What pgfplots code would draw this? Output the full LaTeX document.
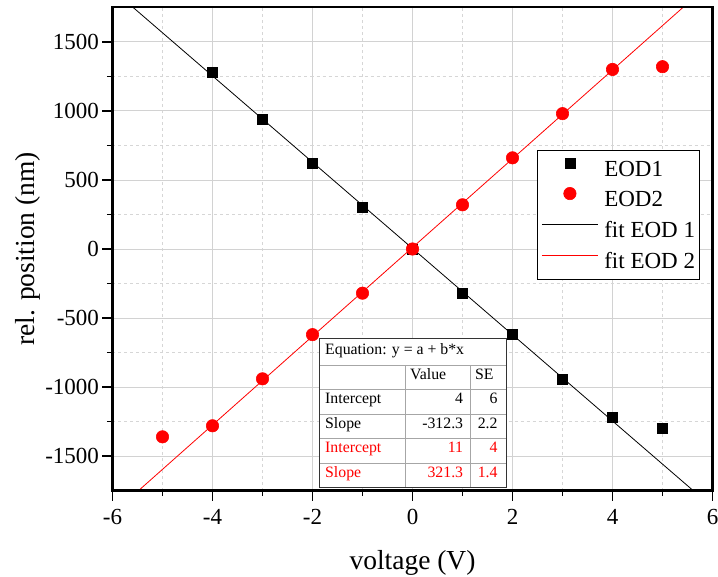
\documentclass[border=0pt]{standalone}
\usepackage{fontspec}
\setmainfont{Liberation Serif}
\usepackage{pgfplots}
\pgfplotsset{compat=1.18}
\definecolor{majgrid}{HTML}{D2D2D2}
\definecolor{mingrid}{HTML}{D6D6D6}
\definecolor{fitred}{HTML}{FF0000}
\pgfplotsset{
  marklegend/.style={legend image code/.code={\draw[mark repeat=2,mark phase=2,##1] plot coordinates {(0bp,6bp) (28bp,6bp) (56bp,6bp)};}},
  linelegend/.style={legend image code/.code={\draw[##1] (0bp,6bp) -- (56bp,6bp);}},
}
\begin{document}
\begin{tikzpicture}
\begin{axis}[
  at={(0,0)}, anchor=south west,
  scale only axis, width=600bp, height=483.4bp,
  xmin=-6, xmax=6, ymin=-1750, ymax=1750,
  xtick={-6,-4,...,6}, ytick={-1500,-1000,...,1500},
  minor xtick={-5,-3,...,5}, minor ytick={-1250,-750,...,1250},
  grid=both,
  major grid style={majgrid, line width=0.8bp},
  minor grid style={mingrid, dash pattern=on 3bp off 3bp, line width=0.8bp},
  axis line style={black, line width=2.2bp},
  tick style={black, line width=1.6bp},
  major tick length=10bp, minor tick length=5.5bp,
  tick align=outside, tick pos=left,
  ticklabel style={font=\fontsize{23bp}{27bp}\selectfont},
  xticklabel style={yshift=-5bp},
  /pgf/number format/assume math mode=true,
  /pgf/number format/1000 sep={},
  xlabel={voltage (V)}, ylabel={rel. position (nm)},
  label style={font=\fontsize{27.5bp}{33bp}\selectfont},
  xlabel style={at={(axis description cs:0.5,-0.162)}, anchor=base},
  ylabel style={at={(axis description cs:-0.1303,0.5)}, anchor=base},
  legend cell align=left,
  legend style={at={(rel axis cs:0.7075,0.7048)}, anchor=north west,
    draw=black, line width=1bp, fill=white,
    font=\fontsize{23bp}{27bp}\selectfont,
    inner xsep=4bp, inner ysep=3bp, row sep=0bp, column sep=6bp,
    nodes={inner sep=0bp, text height=22.7bp, text depth=8bp}},
]
\addplot[only marks, mark=square*, mark size=5bp, black, line width=0.6bp, marklegend] coordinates {
(-4,1280) (-3,940) (-2,620) (-1,300) (0,0) (1,-320) (2,-620) (3,-940) (4,-1220) (5,-1300)};
\addlegendentry{EOD1}
\addplot[only marks, mark=*, mark size=6.2bp, fitred, line width=0.6bp, marklegend] coordinates {
(-5,-1360) (-4,-1280) (-3,-940) (-2,-620) (-1,-320) (0,0) (1,320) (2,660) (3,980) (4,1300) (5,1320)};
\addlegendentry{EOD2}
\addplot[black, line width=0.8bp, no marks, linelegend] coordinates {(-6,1877.8) (6,-1869.8)};
\addlegendentry{fit EOD 1}
\addplot[fitred, line width=0.8bp, no marks, linelegend] coordinates {(-6,-1916.8) (6,1938.8)};
\addlegendentry{fit EOD 2}
\end{axis}
\draw[black, line width=2.4bp] (current axis.south west) rectangle (current axis.north east);
\begin{scope}[font=\fontsize{15.8bp}{19bp}\selectfont]
\fill[white] (206.8bp,3.4bp) rectangle (393.5bp,151.7bp);
\draw[black!35, line width=0.8bp]
  (206.8bp,125.7bp) -- (393.5bp,125.7bp)
  (206.8bp,101.7bp) -- (393.5bp,101.7bp)
  (206.8bp,76.7bp) -- (393.5bp,76.7bp)
  (206.8bp,52.7bp) -- (393.5bp,52.7bp)
  (206.8bp,27.7bp) -- (393.5bp,27.7bp)
  (293.2bp,3.4bp) -- (293.2bp,125.7bp)
  (358.2bp,3.4bp) -- (358.2bp,125.7bp);
\draw[black!80, line width=1bp] (206.8bp,3.4bp) rectangle (393.5bp,151.7bp);
\node[anchor=base west, inner sep=0] at (212.5bp,135.7bp) {Equation: y = a + b*x};
\node[anchor=base west, inner sep=0] at (297.5bp,111.4bp) {Value};
\node[anchor=base west, inner sep=0] at (362.5bp,111.4bp) {SE};
\node[anchor=base west, inner sep=0] at (212.5bp,86.9bp) {Intercept};
\node[anchor=base east, inner sep=0] at (350.8bp,86.9bp) {4};
\node[anchor=base east, inner sep=0] at (385.2bp,86.9bp) {6};
\node[anchor=base west, inner sep=0] at (212.5bp,62.4bp) {Slope};
\node[anchor=base east, inner sep=0] at (350.8bp,62.4bp) {-312.3};
\node[anchor=base east, inner sep=0] at (385.2bp,62.4bp) {2.2};
\node[anchor=base west, inner sep=0, text=fitred] at (212.5bp,37.9bp) {Intercept};
\node[anchor=base east, inner sep=0, text=fitred] at (350.8bp,37.9bp) {11};
\node[anchor=base east, inner sep=0, text=fitred] at (385.2bp,37.9bp) {4};
\node[anchor=base west, inner sep=0, text=fitred] at (212.5bp,13.4bp) {Slope};
\node[anchor=base east, inner sep=0, text=fitred] at (350.8bp,13.4bp) {321.3};
\node[anchor=base east, inner sep=0, text=fitred] at (385.2bp,13.4bp) {1.4};
\end{scope}
\pgfresetboundingbox
\path[use as bounding box] (-112.5bp,-86.3bp) rectangle (605.5bp,490.7bp);
\end{tikzpicture}
\end{document}
